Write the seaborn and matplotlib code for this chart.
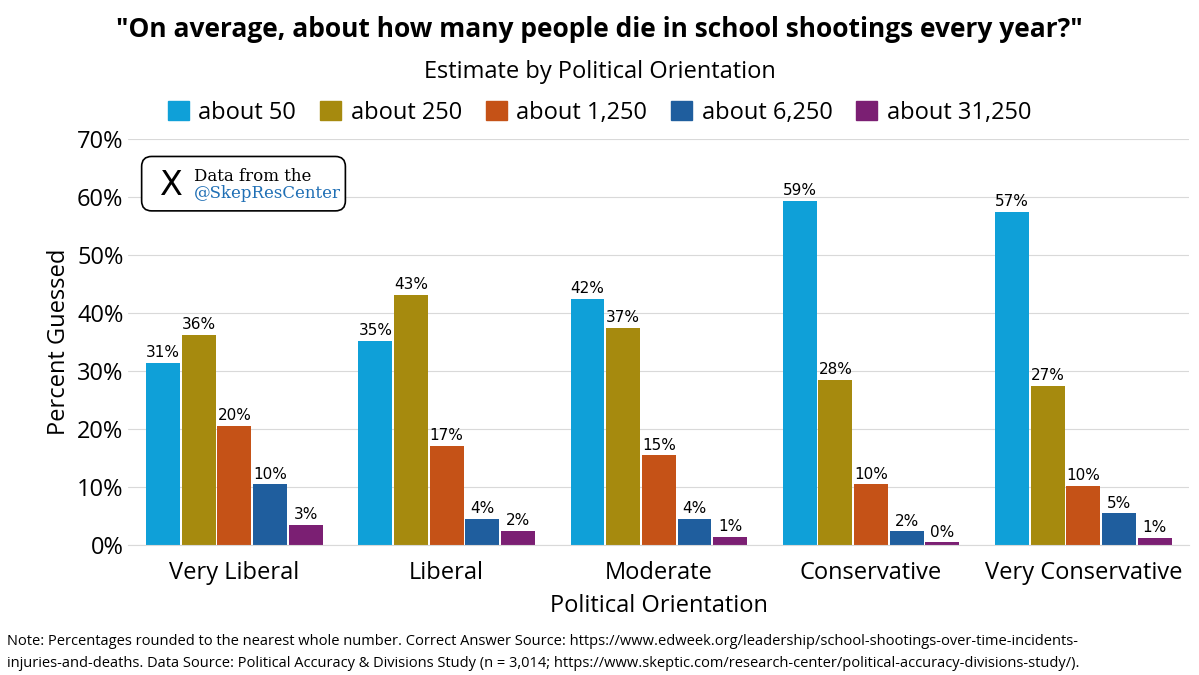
import matplotlib
matplotlib.use("Agg")
import matplotlib.pyplot as plt
import pandas as pd
import seaborn as sns

groups = ["Very Liberal", "Liberal", "Moderate", "Conservative", "Very Conservative"]
answers = ["about 50", "about 250", "about 1,250", "about 6,250", "about 31,250"]
about_50 = [31.4, 35.2, 42.4, 59.3, 57.4]
about_250 = [36.2, 43.1, 37.4, 28.4, 27.4]
about_1250 = [20.5, 17.0, 15.4, 10.4, 10.2]
about_6250 = [10.4, 4.4, 4.4, 2.3, 5.4]
about_31250 = [3.4, 2.4, 1.4, 0.4, 1.2]
colors = ["#0FA0D8", "#A68A0E", "#C55217", "#1F5E9E", "#7B1F73"]

rows = []
for ans, vals in zip(answers, [about_50, about_250, about_1250, about_6250, about_31250]):
    for g, v in zip(groups, vals):
        rows.append({"group": g, "answer": ans, "pct": v})
df = pd.DataFrame(rows)

sns.set_style("white")
plt.rcParams["font.family"] = ["Open Sans", "DejaVu Sans"]
plt.rcParams["text.color"] = "black"
plt.rcParams["axes.labelcolor"] = "black"
plt.rcParams["xtick.color"] = "black"
plt.rcParams["ytick.color"] = "black"

fig = plt.figure(figsize=(11.99, 6.75), dpi=100)
ax = fig.add_axes([0.107, 0.193, 0.885, 0.601])
sns.barplot(data=df, x="group", y="pct", hue="answer", palette=colors,
            width=0.84, gap=0.05, ax=ax, legend=False, saturation=1, linewidth=0)

for cont in ax.containers:
    ax.bar_label(cont, labels=[f"{b.get_height():.0f}%" for b in cont],
                 fontsize=11, padding=2, family="DejaVu Sans")

ax.set_ylim(0, 70)
ax.set_yticks(range(0, 71, 10))
ax.set_yticklabels([f"{t}%" for t in range(0, 71, 10)], fontsize=17)
ax.tick_params(axis="x", labelsize=17, length=0, pad=12)
ax.tick_params(axis="y", length=0)
ax.yaxis.grid(True, color="#d9d9d9", linewidth=0.8)
ax.set_axisbelow(True)
for s in ["top", "right", "left"]:
    ax.spines[s].set_visible(False)
ax.spines["bottom"].set_color("#d9d9d9")
ax.set_xlabel("Political Orientation", fontsize=17, labelpad=6)
ax.set_ylabel("Percent Guessed", fontsize=17)

fig.text(0.5, 0.945, '"On average, about how many people die in school shootings every year?"',
         ha="center", fontsize=19, fontweight="bold")
fig.text(0.5, 0.885, "Estimate by Political Orientation", ha="center", fontsize=17)

handles = [plt.Rectangle((0, 0), 1, 1, color=c) for c in colors]
fig.legend(handles, answers, loc="center", bbox_to_anchor=(0.5, 0.833), ncol=5,
           frameon=False, fontsize=17, handlelength=0.9, handleheight=0.9,
           columnspacing=1.0, handletextpad=0.4)

ax.text(0.022, 0.89, " " * 42 + "\n", transform=ax.transAxes, fontsize=12,
        va="center", bbox=dict(boxstyle="round,pad=0.6", fc="white", ec="black", lw=1.2))
ax.text(0.03, 0.885, "X", transform=ax.transAxes, fontsize=24, va="center",
        family="DejaVu Sans")
ax.text(0.062, 0.908, "Data from the", transform=ax.transAxes, fontsize=12, va="center",
        family="DejaVu Serif")
ax.text(0.062, 0.865, "@SkepResCenter", transform=ax.transAxes, fontsize=12, va="center",
        family="DejaVu Serif", color="#1F6FB5")

note1 = "Note: Percentages rounded to the nearest whole number. Correct Answer Source: "
fig.text(0.006, 0.045, note1 + "https://www.edweek.org/leadership/school-shootings-over-time-incidents-",
         fontsize=10.5, ha="left")
fig.text(0.006, 0.012, "injuries-and-deaths. Data Source: Political Accuracy & Divisions Study (n = 3,014; "
         "https://www.skeptic.com/research-center/political-accuracy-divisions-study/).",
         fontsize=10.5, ha="left")

fig.savefig("out.png", dpi=100)
